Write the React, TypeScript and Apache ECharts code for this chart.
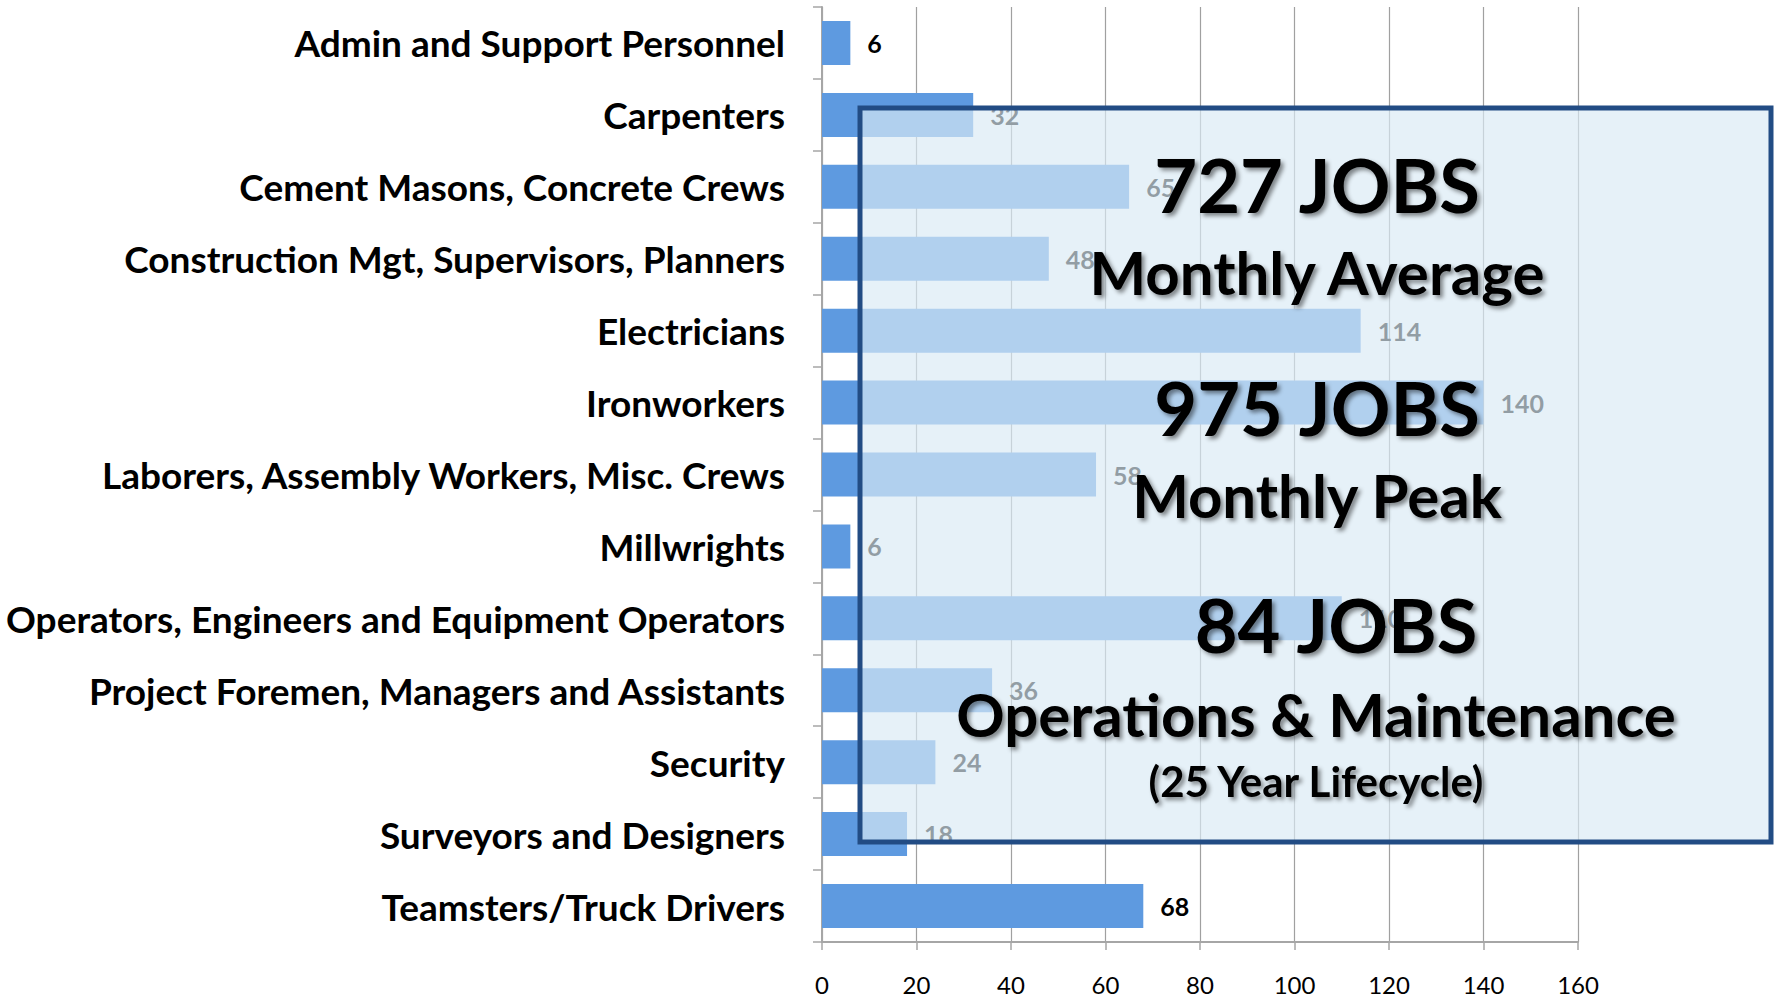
import React, { useEffect, useRef } from "react";
import * as echarts from "echarts";

const categories = [
  "Admin and Support Personnel",
  "Carpenters",
  "Cement Masons, Concrete Crews",
  "Construction Mgt, Supervisors, Planners",
  "Electricians",
  "Ironworkers",
  "Laborers, Assembly Workers, Misc. Crews",
  "Millwrights",
  "Operators, Engineers and Equipment Operators",
  "Project Foremen, Managers and Assistants",
  "Security",
  "Surveyors and Designers",
  "Teamsters/Truck Drivers",
];
const jobs = [6, 32, 65, 48, 114, 140, 58, 6, 110, 36, 24, 18, 68];
const axisMin = 0;
const axisMax = 160;
const axisStep = 20;

const avgTitle = "727 JOBS";
const avgSub = "Monthly Average";
const peakTitle = "975 JOBS";
const peakSub = "Monthly Peak";
const omTitle = "84 JOBS";
const omSub = "Operations & Maintenance";
const omNote = "(25 Year Lifecycle)";

const FONT = "Lato, 'Open Sans', sans-serif";

function bigText(text: string, x: number, y: number, size: number) {
  return {
    type: "text",
    x,
    y,
    z: 100,
    style: {
      text,
      fill: "#000",
      fontFamily: FONT,
      fontWeight: "bold",
      fontSize: size,
      align: "center",
      verticalAlign: "middle",
      textShadowColor: "rgba(0,0,0,0.45)",
      textShadowBlur: 4,
      textShadowOffsetX: 3,
      textShadowOffsetY: 3,
    },
  };
}

export default function App() {
  const ref = useRef<HTMLDivElement>(null);
  useEffect(() => {
    if (!ref.current) return;
    const chart = echarts.init(ref.current, undefined, { renderer: "svg" });
    chart.setOption({
      animation: false,
      backgroundColor: "#ffffff",
      grid: { left: 822, right: 197, top: 7, bottom: 55, containLabel: false },
      xAxis: {
        type: "value",
        min: axisMin,
        max: axisMax,
        interval: axisStep,
        axisLine: { show: true, lineStyle: { color: "#a6a6a6", width: 2 } },
        axisTick: { show: true, length: 8, lineStyle: { color: "#a6a6a6", width: 1.5 } },
        splitLine: { show: true, lineStyle: { color: "#a0a0a0", width: 1.2 } },
        axisLabel: {
          color: "#000",
          fontFamily: FONT,
          fontSize: 24,
          margin: 30,
        },
      },
      yAxis: {
        type: "category",
        data: categories,
        inverse: true,
        axisLine: { show: true, lineStyle: { color: "#a6a6a6", width: 2 } },
        axisTick: { show: true, length: 9, lineStyle: { color: "#a6a6a6", width: 1.5 } },
        axisLabel: {
          color: "#000",
          fontFamily: FONT,
          fontWeight: "bold",
          fontSize: 37,
          margin: 37,
        },
      },
      series: [
        {
          type: "bar",
          data: jobs,
          barWidth: 44,
          itemStyle: { color: "#5e9ae0" },
          label: {
            show: true,
            position: "right",
            distance: 17,
            color: "#000",
            fontFamily: FONT,
            fontWeight: "bold",
            fontSize: 25,
          },
        },
      ],
      graphic: [
        {
          type: "rect",
          z: 100,
          shape: { x: 860, y: 108, width: 911, height: 734 },
          style: {
            fill: "rgba(218,234,244,0.67)",
            stroke: "#224c84",
            lineWidth: 5,
          },
        },
        bigText(avgTitle, 1317, 184, 74),
        bigText(avgSub, 1317, 272, 60),
        bigText(peakTitle, 1317, 407, 74),
        bigText(peakSub, 1317, 495, 60),
        bigText(omTitle, 1336, 624, 74),
        bigText(omSub, 1316, 714, 60),
        bigText(omNote, 1316, 781, 42),
      ],
    });
    return () => chart.dispose();
  }, []);
  return (
    <div
      ref={ref}
      style={{ position: "fixed", left: 0, top: 0, width: 1775, height: 997 }}
    />
  );
}
